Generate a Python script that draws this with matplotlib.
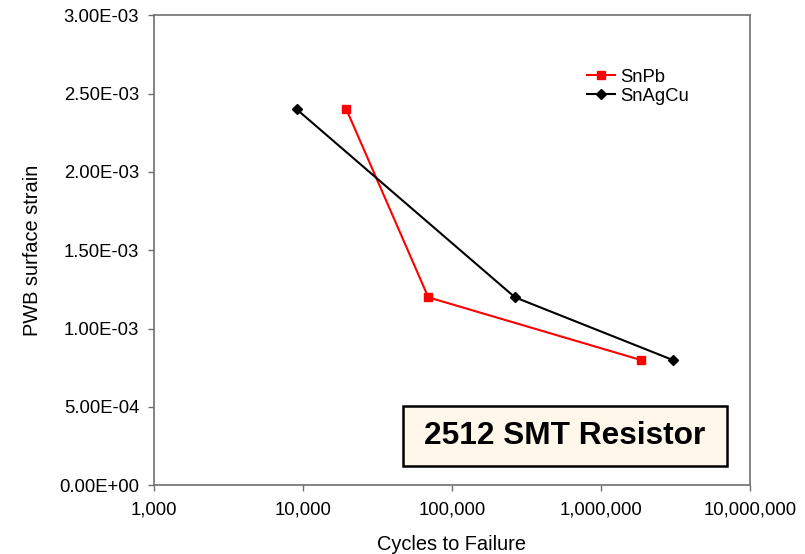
import matplotlib
matplotlib.use("Agg")
import matplotlib.pyplot as plt
from matplotlib.ticker import FixedLocator, FuncFormatter, NullLocator
from matplotlib.patches import Rectangle

plt.rcParams['font.family'] = ['Liberation Sans', 'DejaVu Sans']

# Strain vs. cycles-to-failure for the two solder alloys
snpb_cycles = [19600, 69500, 1850000]
snpb_strain = [2.4e-3, 1.2e-3, 8.0e-4]

snagcu_cycles = [9100, 265000, 3030000]
snagcu_strain = [2.4e-3, 1.2e-3, 8.0e-4]

x_ticks = [1e3, 1e4, 1e5, 1e6, 1e7]
y_ticks = [0, 5e-4, 1e-3, 1.5e-3, 2e-3, 2.5e-3, 3e-3]

W, H = 805, 554
fig = plt.figure(figsize=(W / 100, H / 100), dpi=100)
ax = fig.add_axes([153.7 / W, 1 - 485.3 / H, (750 - 153.7) / W, (485.3 - 15.3) / H])

ax.plot(snpb_cycles, snpb_strain, color='#ff0000', lw=1.5, marker='s',
        markersize=6.3, label='SnPb', zorder=3)
ax.plot(snagcu_cycles, snagcu_strain, color='black', lw=1.5, marker='D',
        markersize=5.0, label='SnAgCu', zorder=3)

ax.set_xscale('log')
ax.set_xlim(1e3, 1e7)
ax.set_ylim(0, 3e-3)
ax.xaxis.set_major_locator(FixedLocator(x_ticks))
ax.xaxis.set_minor_locator(NullLocator())
ax.yaxis.set_major_locator(FixedLocator(y_ticks))
ax.xaxis.set_major_formatter(FuncFormatter(lambda v, p: f"{int(round(v)):,}"))
ax.yaxis.set_major_formatter(FuncFormatter(lambda v, p: f"{v:.2E}"))

for side in ['left', 'bottom', 'top', 'right']:
    ax.spines[side].set_color('#707070')
    ax.spines[side].set_linewidth(1.2)

ax.tick_params(axis='both', which='major', direction='out', length=4.5,
               width=1.0, color='#707070', labelsize=13.3, labelcolor='black')
ax.tick_params(axis='y', pad=6)
ax.tick_params(axis='x', pad=7)

ax.set_xlabel('Cycles to Failure', fontsize=14.4, labelpad=12)
ax.set_ylabel('PWB surface strain', fontsize=14.4, labelpad=12)

fig.legend(loc='upper left', bbox_to_anchor=(586.7 / W, 1 - 68.5 / H),
           frameon=False, fontsize=13.3, borderpad=0, borderaxespad=0,
           handlelength=1.53, handletextpad=0.31, labelspacing=0.12)

# Component label box
bx0, by0, bx1, by1 = 403, 406, 727, 466
fig.patches.append(Rectangle((bx0 / W, 1 - by1 / H), (bx1 - bx0) / W, (by1 - by0) / H,
                             transform=fig.transFigure, facecolor='#fff8ea',
                             edgecolor='black', linewidth=1.8, zorder=5))
fig.text((bx0 + bx1) / 2 / W, 1 - (by0 + by1) / 2 / H, '2512 SMT Resistor',
         ha='center', va='center', fontsize=22.8, fontweight='bold', zorder=6)

fig.savefig('out.png', dpi=100)
